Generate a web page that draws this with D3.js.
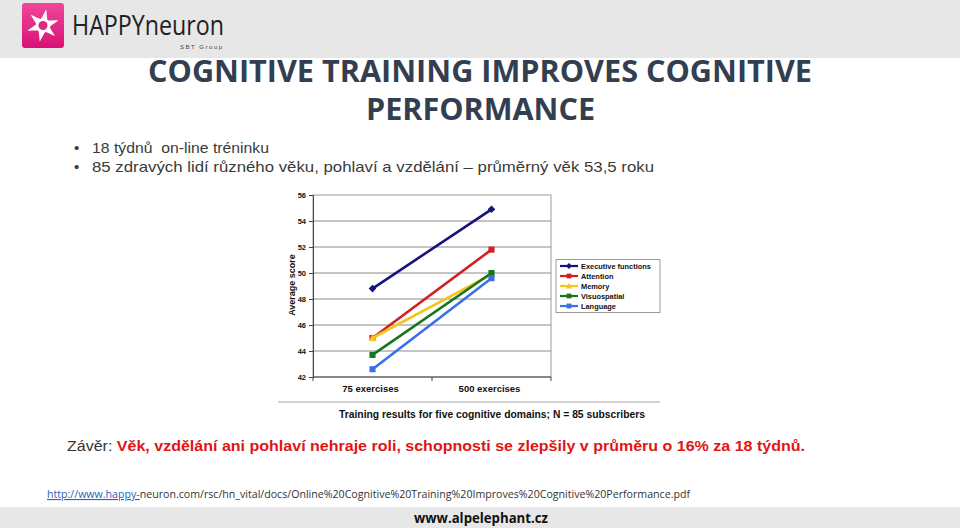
<!DOCTYPE html>
<html><head><meta charset="utf-8">
<script src="https://cdn.jsdelivr.net/npm/d3@7"></script>
<style>html,body{margin:0;padding:0;background:#fff;}svg{display:block;}</style>
</head><body>
<script>
const categories = ["75 exercises", "500 exercises"];
const seriesNames = ["Executive functions", "Attention", "Memory", "Visuospatial", "Language"];
const execValues = [48.8, 54.9];
const attentionValues = [45.0, 51.8];
const memoryValues = [45.0, 49.9];
const visuoValues = [43.7, 50.0];
const languageValues = [42.6, 49.6];
const yTicks = [42, 44, 46, 48, 50, 52, 54, 56];
const seriesColors = ["#14147a", "#d21f1f", "#f5c41a", "#17751d", "#3a6fe6"];
const seriesShapes = ["diamond", "square", "triangle", "square", "square"];

const W = 960, H = 528;
const svg = d3.select("body").append("svg").attr("width", W).attr("height", H);
svg.append("rect").attr("width", W).attr("height", H).attr("fill", "#fff");

// top bar
svg.append("rect").attr("x", 0).attr("y", 0).attr("width", W).attr("height", 58).attr("fill", "#e7e7e7");
// logo
const grad = svg.append("defs").append("linearGradient").attr("id", "pk").attr("x1", 0).attr("y1", 0).attr("x2", 0).attr("y2", 1);
grad.append("stop").attr("offset", "0").attr("stop-color", "#f0479c");
grad.append("stop").attr("offset", "1").attr("stop-color", "#d81274");
svg.append("rect").attr("x", 22).attr("y", 3).attr("width", 42).attr("height", 45).attr("rx", 3).attr("fill", "url(#pk)");
const star = [];
const nP = 6;
for (let i = 0; i < nP * 2; i++) {
  const a = -Math.PI / 2 + i * Math.PI / nP + 0.2;
  const r = i % 2 === 0 ? 16 : 7;
  star.push([43 + r * Math.cos(a), 25.5 + r * Math.sin(a)]);
}
svg.append("path").attr("d", d3.line().curve(d3.curveCardinalClosed.tension(0.6))(star)).attr("fill", "#fff");
svg.append("circle").attr("cx", 43).attr("cy", 25.5).attr("r", 4.5).attr("fill", "#e0287f");
svg.append("text").attr("x", 72).attr("y", 35).attr("font-family", "'Open Sans', sans-serif").attr("font-size", 28)
  .attr("fill", "#222").attr("textLength", 152).attr("lengthAdjust", "spacingAndGlyphs").text("HAPPYneuron");
svg.append("text").attr("x", 180).attr("y", 49).attr("font-family", "'Liberation Sans', Arial, sans-serif").attr("font-size", 6)
  .attr("fill", "#444").attr("textLength", 42).attr("lengthAdjust", "spacing").text("SBT Group");

// title
const titleG = svg.append("g").attr("font-family", "'Open Sans', sans-serif").attr("font-weight", "bold").attr("fill", "#333f50").attr("font-size", 30);
titleG.append("text").attr("x", 148).attr("y", 82).attr("textLength", 664).attr("lengthAdjust", "spacingAndGlyphs").text("COGNITIVE TRAINING IMPROVES COGNITIVE");
titleG.append("text").attr("x", 366).attr("y", 120).attr("textLength", 229).attr("lengthAdjust", "spacingAndGlyphs").text("PERFORMANCE");

// bullets
const bulletG = svg.append("g").attr("font-family", "'Liberation Sans', Arial, sans-serif").attr("font-size", 15).attr("fill", "#3a3a3a");
const bullets = [["18 týdnů  on-line tréninku", 153, 177], ["85 zdravých lidí různého věku, pohlaví a vzdělání – průměrný věk 53,5 roku", 172, 562]];
bullets.forEach(b => {
  bulletG.append("text").attr("x", 74).attr("y", b[1]).text("•");
  bulletG.append("text").attr("x", 92).attr("y", b[1]).attr("textLength", b[2]).attr("lengthAdjust", "spacingAndGlyphs").attr("xml:space", "preserve").text(b[0]);
});

// chart
const x = d3.scalePoint().domain(categories).range([313, 551]).padding(0.5);
const y = d3.scaleLinear().domain([42, 56]).range([377, 195]);
const plot = svg.append("g");
plot.append("rect").attr("x", 313).attr("y", 195).attr("width", 238).attr("height", 182).attr("fill", "#fff").attr("stroke", "#9a9a9a").attr("stroke-width", 1);
plot.selectAll("line.grid").data(yTicks.filter(t => t > 42 && t < 56)).enter().append("line")
  .attr("x1", 313).attr("x2", 551).attr("y1", d => y(d)).attr("y2", d => y(d)).attr("stroke", "#8a8a8a").attr("stroke-width", 1);

const yAxis = d3.axisLeft(y).tickValues(yTicks).tickSize(4).tickPadding(3);
const yg = plot.append("g").attr("transform", "translate(313,0)").call(yAxis);
yg.select(".domain").attr("stroke", "#444");
yg.selectAll(".tick line").attr("stroke", "#444");
yg.selectAll("text").attr("font-family", "'Liberation Sans', Arial, sans-serif").attr("font-size", 7.5).attr("font-weight", "bold").attr("fill", "#111");

const xAxisG = plot.append("g").attr("transform", "translate(0,377)");
xAxisG.append("line").attr("x1", 313).attr("x2", 551).attr("stroke", "#444");
const bw = x.step();
const bounds = [313, 313 + bw, 313 + 2 * bw];
xAxisG.selectAll("line.tk").data(bounds).enter().append("line").attr("x1", d => d).attr("x2", d => d).attr("y1", 0).attr("y2", 4).attr("stroke", "#444");
xAxisG.selectAll("text").data(categories).enter().append("text").attr("x", d => x(d) - 2).attr("y", 15).attr("text-anchor", "middle")
  .attr("font-family", "'Liberation Sans', Arial, sans-serif").attr("font-size", 9.5).attr("font-weight", "bold").attr("fill", "#111").text(d => d);

svg.append("text").attr("transform", "translate(295,285) rotate(-90)").attr("text-anchor", "middle")
  .attr("font-family", "'Liberation Sans', Arial, sans-serif").attr("font-size", 9).attr("font-weight", "bold").attr("fill", "#111").text("Average score");

const allSeries = [execValues, attentionValues, memoryValues, visuoValues, languageValues];
const line = d3.line().x((d, i) => x(categories[i])).y(d => y(d));
function marker(g, shape, cx, cy, color, s) {
  if (shape === "diamond") {
    g.append("path").attr("d", `M${cx},${cy - s}L${cx + s},${cy}L${cx},${cy + s}L${cx - s},${cy}Z`).attr("fill", color);
  } else if (shape === "triangle") {
    g.append("path").attr("d", `M${cx},${cy - s}L${cx + s},${cy + s * 0.8}L${cx - s},${cy + s * 0.8}Z`).attr("fill", color);
  } else {
    g.append("rect").attr("x", cx - s * 0.8).attr("y", cy - s * 0.8).attr("width", s * 1.6).attr("height", s * 1.6).attr("fill", color);
  }
}
allSeries.forEach((vals, i) => {
  const g = plot.append("g");
  g.append("path").datum(vals).attr("d", line).attr("fill", "none").attr("stroke", seriesColors[i]).attr("stroke-width", 2.6);
  vals.forEach((v, j) => marker(g, seriesShapes[i], x(categories[j]), y(v), seriesColors[i], 3.8));
});

// legend
const lg = svg.append("g");
lg.append("rect").attr("x", 556).attr("y", 259.5).attr("width", 104).attr("height", 53).attr("fill", "#fff").attr("stroke", "#9a9a9a");
seriesNames.forEach((n, i) => {
  const ly = 266 + i * 10;
  lg.append("line").attr("x1", 560).attr("x2", 578).attr("y1", ly).attr("y2", ly).attr("stroke", seriesColors[i]).attr("stroke-width", 2.2);
  marker(lg, seriesShapes[i], 569, ly, seriesColors[i], 3);
  lg.append("text").attr("x", 581).attr("y", ly + 3).attr("font-family", "'Liberation Sans', Arial, sans-serif").attr("font-size", 7.4)
    .attr("font-weight", "bold").attr("fill", "#111").text(n);
});

// separator and caption
svg.append("line").attr("x1", 278).attr("x2", 660).attr("y1", 402).attr("y2", 402).attr("stroke", "#c4c4c4").attr("stroke-width", 1.5);
svg.append("text").attr("x", 339).attr("y", 418).attr("font-family", "'Liberation Sans', Arial, sans-serif").attr("font-size", 10.5)
  .attr("font-weight", "bold").attr("fill", "#111").attr("textLength", 306).attr("lengthAdjust", "spacingAndGlyphs")
  .text("Training results for five cognitive domains; N = 85 subscribers");

// conclusion
const concl = svg.append("text").attr("x", 67).attr("y", 451).attr("font-family", "'Liberation Sans', Arial, sans-serif").attr("font-size", 15.5)
  .attr("textLength", 738).attr("lengthAdjust", "spacingAndGlyphs");
concl.append("tspan").attr("fill", "#333").text("Závěr: ");
concl.append("tspan").attr("fill", "#e01515").attr("font-weight", "bold").text("Věk, vzdělání ani pohlaví nehraje roli, schopnosti se zlepšily v průměru o 16% za 18 týdnů.");

// url
const url = svg.append("text").attr("x", 47).attr("y", 498).attr("font-family", "'Open Sans', sans-serif").attr("font-size", 11)
  .attr("textLength", 643).attr("lengthAdjust", "spacingAndGlyphs");
url.append("tspan").attr("fill", "#2a62b8").attr("text-decoration", "underline").text("http://www.happy-");
url.append("tspan").attr("fill", "#333").text("neuron.com/rsc/hn_vital/docs/Online%20Cognitive%20Training%20Improves%20Cognitive%20Performance.pdf");

// bottom bar
svg.append("rect").attr("x", 0).attr("y", 507).attr("width", W).attr("height", 21).attr("fill", "#e7e7e7");
svg.append("text").attr("x", 414).attr("y", 523).attr("font-family", "'Open Sans', sans-serif").attr("font-size", 14).attr("font-weight", "bold")
  .attr("fill", "#111").attr("textLength", 134).attr("lengthAdjust", "spacingAndGlyphs").text("www.alpelephant.cz");
</script>
</body></html>
